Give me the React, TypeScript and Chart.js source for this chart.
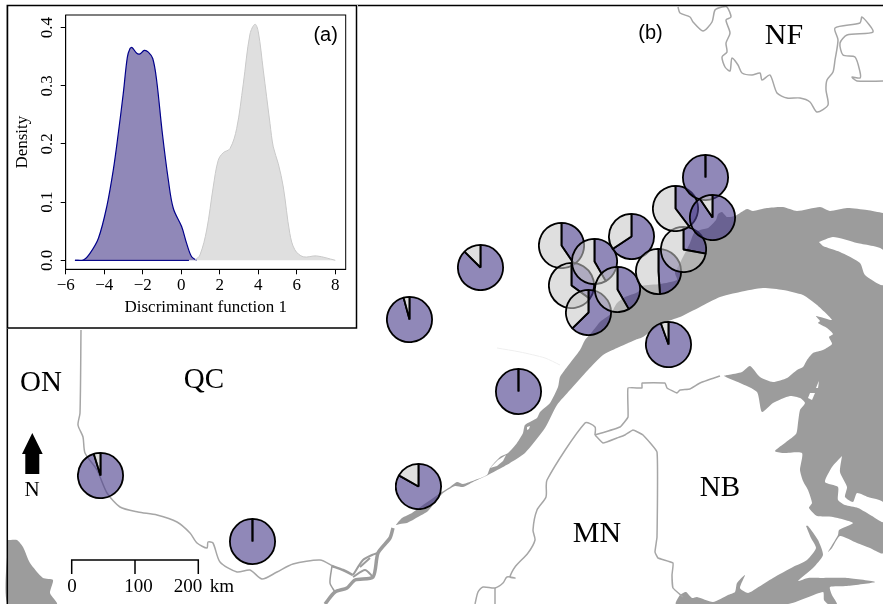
import React, { useEffect, useRef } from "react";
import { Chart, registerables } from "chart.js";

Chart.register(...registerables);

type P = [number, number];

const PURPLE = "rgba(76,63,140,0.62)";
const GREY = "rgba(198,198,198,0.565)";
const WATER = "#9c9c9c";
const BORDER = "#a6a6a6";
const SERIF = "'Liberation Serif', serif";
const SANS = "'Liberation Sans', sans-serif";

/* ---- inset: density curves ---- */
const groupAX = [-5.52, -5.08, -4.74, -4.3, -3.87, -3.53, -3.27, -3.01, -2.8, -2.66, -2.56, -2.31, -2.14, -1.92, -1.71, -1.48, -1.28, -0.98, -0.67, -0.41, 0.02, 0.28, 0.54, 0.8];
const groupAY = [0, 0.0006, 0.012, 0.038, 0.092, 0.155, 0.218, 0.287, 0.349, 0.364, 0.366, 0.356, 0.355, 0.361, 0.358, 0.347, 0.31, 0.218, 0.138, 0.089, 0.058, 0.029, 0.006, 0];
const groupBX = [0.71, 0.97, 1.32, 1.66, 1.92, 2.18, 2.53, 2.88, 3.22, 3.57, 3.83, 4.0, 4.26, 4.61, 4.78, 5.04, 5.3, 5.64, 5.9, 6.34, 7.03, 8.0];
const groupBY = [0, 0.009, 0.052, 0.126, 0.172, 0.185, 0.192, 0.227, 0.303, 0.389, 0.406, 0.393, 0.327, 0.235, 0.195, 0.166, 0.126, 0.046, 0.018, 0.006, 0.0075, 0];
const xTicks = [-6, -4, -2, 0, 2, 4, 6, 8];
const yTicks = [0, 0.1, 0.2, 0.3, 0.4];

/* ---- pies: site on the map, share of the first group ---- */
const pieX = [561.7, 571.7, 594, 588.8, 617.2, 631.3, 658, 683.3, 675.7, 705.7, 712.3, 668.3, 480.7, 409.3, 518.3, 418.3, 100, 252];
const pieY = [245, 285.7, 261.2, 312, 289.3, 236, 271, 249.3, 208.3, 177.7, 217.3, 344, 267.3, 319, 391.3, 486.3, 475.3, 541.3];
const pieShare = [0.405, 0.35, 0.417, 0.627, 0.417, 0.657, 0.49, 0.28, 0.397, 0.9995, 0.905, 0.945, 0.875, 0.958, 0.9995, 0.832, 0.952, 0.9995];

/* ---- map outlines, in map units ---- */
const sea: P[] = [[883,213],[867,210],[847,208],[830,211],[820,207],[797,211],[783,207],[767,208],[753,211],[747,209],[740,213],[735,216],[727,217],[722,212],[718,214],[716,220],[708,228],[700,230],[694,233],[690,243],[687,249],[680,263],[675,273],[677,280],[660,284],[642,286],[638,292],[625,297],[617,303],[614,308],[612,313],[600,322],[592,332],[585,340],[580,350],[567,367],[560,377],[558,387],[550,403],[540,412],[537,418],[525,425],[523,433],[517,443],[508,453],[500,457],[490,468],[487,475],[475,480],[463,484],[457,482],[450,487],[442,492],[423,505],[412,513],[402,518],[396,525],[400,524],[407,523],[418,517],[428,511],[442,494],[455,486],[463,487],[473,482],[488,475],[503,467],[510,463],[525,453],[545,428],[557,405],[570,390],[588,370],[603,355],[617,348],[635,340],[643,337],[663,323],[680,317],[700,307],[720,297],[740,292],[763,288],[783,290],[803,295],[817,305],[832,320],[816,316],[820,321],[818,323],[827,328],[833,334],[829,337],[832,344],[823,350],[813,353],[807,360],[803,367],[797,370],[787,378],[773,382],[760,377],[750,366],[742,372],[728,375],[724,376],[740,383],[757,392],[762,412],[773,403],[790,396],[800,398],[805,403],[800,410],[798,423],[796,434],[775,451],[783,453],[802,453],[800,470],[803,481],[808,490],[812,503],[809,508],[817,516],[833,517],[853,523],[839,530],[838,535],[828,552],[832,548],[840,536],[857,543],[870,548],[883,553],[883,213]];
const fundy: P[] = [[806,526],[811,538],[816,548],[807,560],[793,567],[773,578],[757,588],[748,593],[740,588],[745,575],[737,583],[735,592],[728,595],[713,602],[697,597],[692,598],[686,592],[680,595],[676,604],[788,604],[823,592],[824,600],[828,604],[837,604],[832,595],[830,587],[847,586],[875,582],[847,578],[820,578],[808,578],[798,581],[813,568],[823,555],[818,540],[808,526],[806,526]];
const georgianBay: P[] = [[8,540],[17,540],[23,547],[30,563],[43,578],[53,580],[50,593],[57,604],[8,604],[8,540]];
const anticosti: P[] = [[819,242],[833,237],[857,243],[883,250],[883,285],[865,275],[860,263],[840,252],[823,246],[819,242]];
const pei: P[] = [[842,456],[840,472],[847,487],[845,497],[853,502],[857,493],[868,497],[883,502],[883,522],[872,516],[858,508],[845,505],[838,500],[838,487],[825,482],[832,467],[842,456]];
const isleA: P[] = [[490,468],[498,460],[506,455],[503,461],[497,466],[490,468]];
const isleB: P[] = [[818,383],[819,381],[818,388],[816,388],[818,383]];
const isleC: P[] = [[810,393],[815,393],[812,400],[808,398],[810,393]];
const isleD: P[] = [[527,427],[530,426],[529,429],[527,430],[527,427]];

const ontarioLine: P[] = [[81,330],[80,413],[78,425],[83,437],[85,453],[97,470],[107,493],[120,507],[138,512],[157,515],[177,522],[190,533],[197,543],[207,548],[208,542],[213,543],[220,562],[237,572],[250,570],[262,579],[277,572],[293,564],[320,560],[333,566]];
const stlawrenceW: P[] = [[332,566],[343,570],[353,575]];
const channelA: P[] = [[332,566],[330,583],[335,592]];
const channelB: P[] = [[325,604],[335,592],[347,588],[355,580],[373,577],[378,553],[390,538],[393,528]];
const channelC: P[] = [[353,575],[363,560],[372,555],[378,553]];
const channelD: P[] = [[360,567],[370,558]];
const channelE: P[] = [[353,577],[365,570],[373,577]];
const labradorW: P[] = [[678,7],[680,13],[690,17],[693,22],[703,31],[712,22],[715,10],[722,7],[727,7],[731,17],[726,20],[730,33],[726,43],[727,52],[722,57],[725,67],[730,71],[732,58],[738,65],[742,73],[752,75],[760,73],[762,80],[770,75],[777,93],[787,98],[800,98],[810,102],[817,112],[828,105],[826,90],[827,80],[833,72],[835,60],[838,40],[835,28],[860,23],[862,17],[873,32],[847,35],[840,43],[843,55],[855,57],[860,72],[860,78],[852,77],[857,81],[883,81]];
const gaspeLine: P[] = [[595,435],[620,427],[628,417],[628,388],[642,388],[642,383],[665,383],[667,388],[677,393],[680,390],[690,389],[700,383],[720,376]];
const maineLine: P[] = [[595,435],[595,427],[585,423],[547,480],[546,497],[537,510],[533,530],[535,540],[528,553],[515,567],[510,577],[515,578],[507,577],[503,583],[495,588],[483,587],[478,592],[475,604]];
const maineFork: P[] = [[495,588],[495,604]];
const nbLine: P[] = [[595,435],[603,443],[617,438],[625,435],[633,430],[643,435],[657,452],[657,537],[655,552],[658,558],[673,563],[672,575],[673,588],[683,597]];
const faintLine: P[] = [[497,348],[520,352],[545,358],[560,365]];

const frameLine: P[] = [[883,5.5],[7.3,5.5],[7.3,604]];
const scaleBar: P[] = [[71.7,574],[71.7,560],[135,560],[135,574],[135,560],[198.3,560],[198.3,574]];
const northArrow: P[] = [[32.3,433],[42.7,454],[39.3,454],[39.3,474],[25.3,474],[25.3,454],[22,454],[32.3,433]];

const labelText = ["ON", "QC", "NF", "NB", "MN", "N", "0", "100", "200", "km"];
const labelX = [41, 204, 784, 720, 597, 32, 72, 138.5, 188, 222];
const labelY = [383, 380, 36, 488, 534, 490, 587, 587, 587, 587];
const labelSize = [29, 29, 30, 29, 30, 21, 19, 19, 19, 19];

const pts = (a: P[]) => a.map(([x, y]) => ({ x, y }));
const area = (a: P[], color: string, order: number, tension = 0.2) => ({
  data: pts(a), showLine: true, pointRadius: 0, borderWidth: 0, borderColor: color,
  backgroundColor: color, fill: "shape", order, tension,
});
const stroke = (a: P[], color: string, width: number, order: number, tension = 0.25) => ({
  data: pts(a), showLine: true, pointRadius: 0, borderWidth: width, borderColor: color,
  backgroundColor: "transparent", fill: false, order, tension,
});

const mapLabels = {
  id: "mapLabels",
  afterDatasetsDraw(chart: any) {
    const { ctx, scales } = chart;
    ctx.save();
    ctx.fillStyle = "#000";
    ctx.textAlign = "center";
    ctx.textBaseline = "middle";
    labelText.forEach((t, i) => {
      ctx.font = `${labelSize[i]}px ${SERIF}`;
      ctx.fillText(t, scales.x.getPixelForValue(labelX[i]), scales.y.getPixelForValue(labelY[i]));
    });
    ctx.font = `20px ${SANS}`;
    ctx.fillText("(b)", scales.x.getPixelForValue(650.5), scales.y.getPixelForValue(33));
    ctx.restore();
  },
};

const insetFrame = {
  id: "insetFrame",
  afterDraw(chart: any) {
    const { ctx, chartArea: a, width, height } = chart;
    ctx.save();
    ctx.strokeStyle = "#000";
    ctx.lineWidth = 1;
    ctx.strokeRect(a.left, a.top, a.right - a.left, a.bottom - a.top);
    ctx.lineWidth = 1.5;
    ctx.strokeRect(0.5, 0.5, width - 2, height - 1.5);
    ctx.fillStyle = "#000";
    ctx.font = `20px ${SANS}`;
    ctx.textAlign = "center";
    ctx.textBaseline = "middle";
    ctx.fillText("(a)", chart.scales.x.getPixelForValue(7.5), chart.scales.y.getPixelForValue(0.387));
    ctx.restore();
  },
};

export default function App() {
  const mapRef = useRef<HTMLCanvasElement | null>(null);
  const insetRef = useRef<HTMLCanvasElement | null>(null);
  const pieRefs = useRef<(HTMLCanvasElement | null)[]>([]);

  useEffect(() => {
    const charts: Chart[] = [];
    const map = new Chart(mapRef.current!, {
      type: "scatter",
      plugins: [mapLabels],
      data: {
        datasets: [
          area(sea, WATER, 9), area(fundy, WATER, 9), area(georgianBay, WATER, 9),
          area(anticosti, "#fff", 8), area(pei, "#fff", 8), area(isleA, "#fff", 8, 0),
          area(isleB, "#fff", 8, 0), area(isleC, "#fff", 8, 0), area(isleD, "#fff", 8, 0),
          stroke(ontarioLine, BORDER, 1.5, 5), stroke(labradorW, BORDER, 1.5, 5),
          stroke(gaspeLine, BORDER, 1.5, 5, 0.1), stroke(maineLine, BORDER, 1.5, 5),
          stroke(maineFork, BORDER, 1.5, 5), stroke(nbLine, BORDER, 1.5, 5, 0.1),
          stroke(faintLine, "#efefef", 1, 5),
          stroke(stlawrenceW, WATER, 2.5, 4), stroke(channelA, WATER, 1.5, 4),
          stroke(channelB, WATER, 3.5, 4), stroke(channelC, WATER, 2, 4),
          stroke(channelD, WATER, 2, 4), stroke(channelE, WATER, 2, 4),
          stroke(frameLine, "#000", 1.5, 1, 0), stroke(scaleBar, "#000", 1.5, 1, 0),
          area(northArrow, "#000", 1, 0),
        ] as any,
      },
      options: {
        animation: false, responsive: false, events: [],
        layout: { padding: 0 },
        plugins: { legend: { display: false }, tooltip: { enabled: false } },
        scales: {
          x: { type: "linear", min: 0, max: 883, display: false },
          y: { type: "linear", min: 0, max: 604, reverse: true, display: false },
        },
      },
    });
    charts.push(map);

    const insetX = (a: number[], b: number[]) => a.map((x, i) => ({ x, y: b[i] }));
    const tickFont = { family: SERIF, size: 17 };
    const inset = new Chart(insetRef.current!, {
      type: "scatter",
      plugins: [insetFrame],
      data: {
        datasets: [
          { data: insetX(groupBX, groupBY), showLine: true, pointRadius: 0, tension: 0.35, borderWidth: 1, borderColor: "#c9c9c9", backgroundColor: GREY, fill: "origin", order: 1 },
          { data: insetX(groupAX, groupAY), showLine: true, pointRadius: 0, tension: 0.35, borderWidth: 1.2, borderColor: "#00008b", backgroundColor: PURPLE, fill: "origin", order: 2 },
          { data: [{ x: -5.52, y: 0 }, { x: 0.4, y: 0 }], showLine: true, pointRadius: 0, borderWidth: 1.2, borderColor: "#00008b", order: 2 },
        ] as any,
      },
      options: {
        animation: false, responsive: false, events: [],
        layout: { padding: { top: 10, right: 12.3 } },
        plugins: { legend: { display: false }, tooltip: { enabled: false } },
        scales: {
          x: {
            type: "linear", min: -6, max: 8.54,
            afterBuildTicks: (s: any) => { s.ticks = xTicks.map((value) => ({ value })); },
            afterFit: (s: any) => { s.height = 59.7; s.paddingLeft = 0; s.paddingRight = 0; },
            ticks: { color: "#000", font: tickFont, padding: 1, maxRotation: 0, autoSkip: false, callback: (v: any) => String(v).replace("-", "\u2212") },
            grid: { drawOnChartArea: false, tickLength: 5, tickColor: "#000", tickWidth: 1 },
            border: { color: "#000" },
            title: { display: true, text: "Discriminant function 1", color: "#000", font: { family: SERIF, size: 17 }, padding: { top: 3, bottom: 11 } },
          },
          y: {
            type: "linear", min: -0.0155, max: 0.4218,
            afterBuildTicks: (s: any) => { s.ticks = yTicks.map((value) => ({ value })); },
            afterFit: (s: any) => { s.width = 58.7; s.paddingTop = 0; s.paddingBottom = 0; },
            ticks: { color: "#000", font: tickFont, padding: 3, crossAlign: "center", minRotation: 90, maxRotation: 90, autoSkip: false, callback: (v: any) => Number(v).toFixed(1) },
            grid: { drawOnChartArea: false, tickLength: 5, tickColor: "#000", tickWidth: 1 },
            border: { color: "#000" },
            title: { display: true, text: "Density", color: "#000", font: { family: SERIF, size: 17 }, padding: { top: 5, bottom: 2 } },
          },
        },
      },
    });
    charts.push(inset);

    pieShare.forEach((share, i) => {
      const c = pieRefs.current[i]!;
      c.style.left = `${Math.round(map.scales.x.getPixelForValue(pieX[i]) - 23.5)}px`;
      c.style.top = `${Math.round(map.scales.y.getPixelForValue(pieY[i]) - 23.5)}px`;
      charts.push(new Chart(c, {
        type: "pie",
        data: {
          datasets: [{
            data: [share, 1 - share],
            backgroundColor: [PURPLE, GREY],
            borderColor: "#000",
            borderWidth: 1.8,
          }],
        },
        options: {
          animation: false, responsive: false, events: [],
          layout: { padding: 0 },
          plugins: { legend: { display: false }, tooltip: { enabled: false } },
        },
      }));
    });

    return () => charts.forEach((c) => c.destroy());
  }, []);

  return (
    <div style={{ position: "absolute", left: 0, top: 0, width: 883, height: 604, overflow: "hidden", background: "#fff" }}>
      <canvas ref={mapRef} width={883} height={604} style={{ position: "absolute", left: 0, top: 0 }} />
      <canvas ref={insetRef} width={351} height={324} style={{ position: "absolute", left: 7, top: 5, background: "#fff" }} />
      {pieShare.map((_, i) => (
        <canvas key={i} ref={(el) => { pieRefs.current[i] = el; }} width={47} height={47} style={{ position: "absolute" }} />
      ))}
    </div>
  );
}
